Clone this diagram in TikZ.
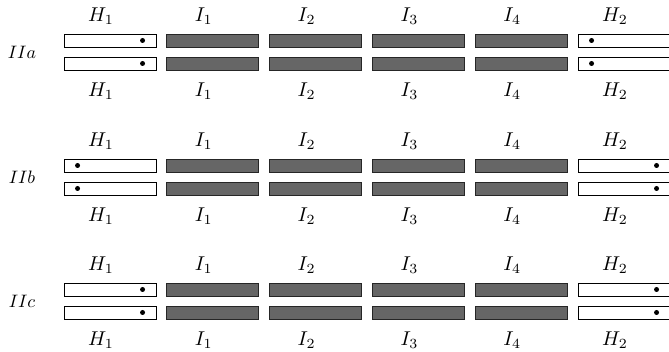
\documentclass[tikz,border=0pt]{standalone}
\usetikzlibrary{positioning}

\newcommand{\lab}[1]{\scalebox{2.0}{$#1$}}

\tikzset{
  coil/.style={draw=black, line width=0.9pt, fill=white, minimum width=92pt, minimum height=13pt, inner sep=0pt},
  core/.style={coil, draw=black!85, fill=black!60},
  lbl/.style={inner sep=0pt},
  pin/.style={fill=black},
}

\begin{document}
\begin{tikzpicture}[x=1pt, y=-1pt]
  \useasboundingbox (0,0) rectangle (669,352);

  % drei Anordnungen IIa, IIb, IIc
  \foreach \r/\yc/\da/\db in {a/52/79/14, b/177/14/79, c/301/79/79} {
    \node[lbl] (name\r) at (22,\yc) {\scalebox{1.8}{$II\r$}};

    % obere und untere Reihe
    \foreach \s/\dy in {t/-11.5, u/11.5} {
      \node[coil] (H1\r\s) at (110,\yc+\dy) {};
      \foreach \i/\x in {1/212.8, 2/315.6, 3/418.4, 4/521.2}
        \node[core] (I\i\r\s) at (\x,\yc+\dy) {};
      \node[coil] (H2\r\s) at (624,\yc+\dy) {};
      \fill[pin] ([xshift=\da pt]H1\r\s.west) circle (2.5pt);
      \fill[pin] ([xshift=\db pt]H2\r\s.west) circle (2.5pt);
    }

    % Beschriftung oben und unten
    \node[lbl, above=9pt of H1\r t, xshift=-9pt] (lH1\r t) {\lab{H_1}};
    \node[lbl, below=12pt of H1\r u, xshift=-9pt] (lH1\r u) {\lab{H_1}};
    \foreach \i in {1,2,3,4} {
      \node[lbl, above=9pt of I\i\r t, xshift=-9pt] (lI\i\r t) {\lab{I_\i}};
      \node[lbl, below=12pt of I\i\r u, xshift=-9pt] (lI\i\r u) {\lab{I_\i}};
    }
    \node[lbl, above=9pt of H2\r t, xshift=-9pt] (lH2\r t) {\lab{H_2}};
    \node[lbl, below=12pt of H2\r u, xshift=-9pt] (lH2\r u) {\lab{H_2}};
  }
\end{tikzpicture}
\end{document}
